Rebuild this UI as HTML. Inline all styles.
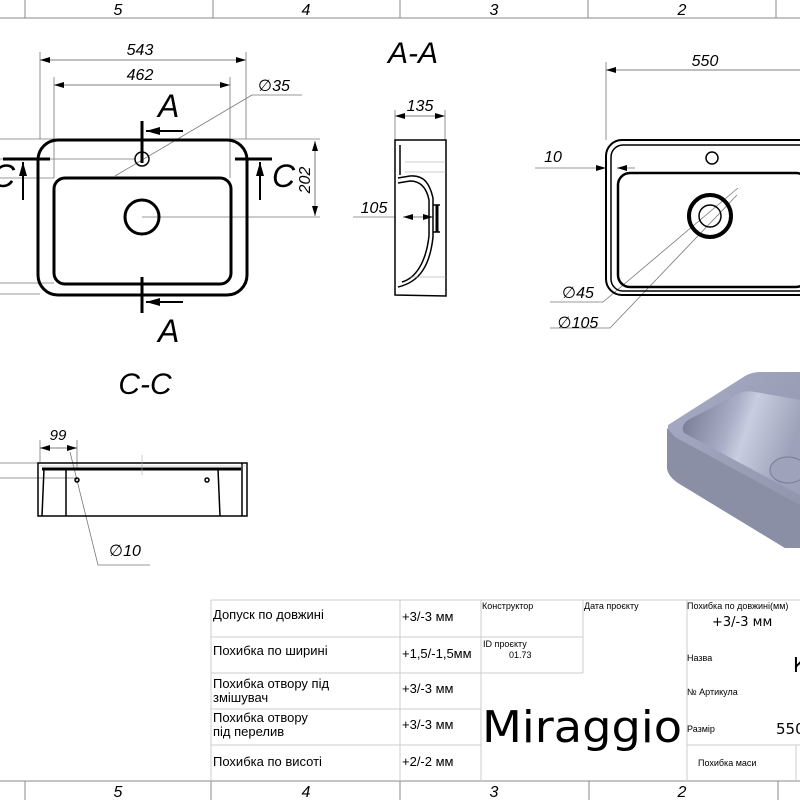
<!DOCTYPE html>
<html><head><meta charset="utf-8"><style>
html,body{margin:0;padding:0;background:#fff;}
svg{display:block;}
text{font-family:"Liberation Sans","DejaVu Sans",sans-serif;fill:#000;}
.it{font-style:italic;}
.t{font-family:"DejaVu Sans","Liberation Sans",sans-serif;}
</style></head><body>
<svg width="800" height="800" viewBox="0 0 800 800" xmlns="http://www.w3.org/2000/svg">
<defs>
<marker id="ar" viewBox="0 0 10 6" refX="10" refY="3" markerWidth="10" markerHeight="6" orient="auto-start-reverse" markerUnits="userSpaceOnUse"><path d="M0,0 L10,3 L0,6 Z" fill="#000"/></marker>
<marker id="big" viewBox="0 0 14 8" refX="14" refY="4" markerWidth="14" markerHeight="8" orient="auto" markerUnits="userSpaceOnUse"><path d="M0,0 L14,4 L0,8 Z" fill="#000"/></marker>
<linearGradient id="g1" x1="0" y1="0" x2="1" y2="1"><stop offset="0" stop-color="#a7acc4"/><stop offset="1" stop-color="#8e93ab"/></linearGradient>
<linearGradient id="g2" x1="0" y1="0" x2="1" y2="0.3"><stop offset="0" stop-color="#6f748c"/><stop offset="0.45" stop-color="#a9aec6"/><stop offset="0.6" stop-color="#c9cde0"/><stop offset="1" stop-color="#9da2ba"/></linearGradient>
</defs>

<!-- rulers -->
<g stroke="#888" stroke-width="1">
<line x1="0" y1="18" x2="800" y2="18"/>
<line x1="0" y1="781" x2="800" y2="781"/>
<line x1="25" y1="0" x2="25" y2="18"/><line x1="213" y1="0" x2="213" y2="18"/><line x1="400" y1="0" x2="400" y2="18"/><line x1="588" y1="0" x2="588" y2="18"/><line x1="776" y1="0" x2="776" y2="18"/>
<line x1="25" y1="781" x2="25" y2="800"/><line x1="211" y1="781" x2="211" y2="800"/><line x1="400" y1="781" x2="400" y2="800"/><line x1="589" y1="781" x2="589" y2="800"/><line x1="778" y1="781" x2="778" y2="800"/>
</g>
<g class="it" font-size="16" text-anchor="middle">
<text x="118" y="15">5</text><text x="306" y="15">4</text><text x="494" y="15">3</text><text x="682" y="15">2</text>
<text x="118" y="797">5</text><text x="306" y="797">4</text><text x="494" y="797">3</text><text x="682" y="797">2</text>
</g>

<!-- Left plan view -->
<g fill="none" stroke="#777" stroke-width="0.8">
<line x1="40" y1="52" x2="40" y2="139"/><line x1="246" y1="52" x2="246" y2="139"/>
<line x1="54" y1="77" x2="54" y2="178"/><line x1="230" y1="77" x2="230" y2="178"/>
<line x1="0" y1="139" x2="320" y2="139"/>
<line x1="142" y1="217" x2="320" y2="217"/>
<line x1="0" y1="159" x2="135" y2="159"/>
<line x1="0" y1="178" x2="54" y2="178"/>
<line x1="0" y1="283" x2="54" y2="283"/>
<line x1="0" y1="294" x2="40" y2="294"/>
<line x1="115" y1="176" x2="252" y2="95"/><line x1="252" y1="95" x2="302" y2="95"/>
</g>
<line x1="40" y1="60" x2="246" y2="60" stroke="#555" stroke-width="0.8" marker-start="url(#ar)" marker-end="url(#ar)"/>
<line x1="54" y1="85" x2="230" y2="85" stroke="#555" stroke-width="0.8" marker-start="url(#ar)" marker-end="url(#ar)"/>
<line x1="315" y1="141" x2="315" y2="216" stroke="#555" stroke-width="0.8" marker-start="url(#ar)" marker-end="url(#ar)"/>
<g class="it" font-size="16" text-anchor="middle">
<text x="140" y="55">543</text><text x="140" y="80">462</text>
<text x="274" y="91">∅35</text>
<text transform="translate(310,180) rotate(-90)">202</text>
</g>
<g fill="none" stroke="#000" stroke-width="3">
<rect x="38" y="140" width="209" height="155" rx="20"/>
<rect x="54" y="178" width="177" height="106" rx="11"/>
<circle cx="142" cy="217" r="17"/>
</g>
<circle cx="142" cy="159" r="7" fill="none" stroke="#000" stroke-width="1.5"/>
<g stroke="#000" stroke-width="3">
<line x1="142" y1="121" x2="142" y2="163"/>
<line x1="142" y1="277" x2="142" y2="313"/>
<line x1="3" y1="159" x2="50" y2="159"/>
<line x1="235" y1="159" x2="272" y2="159"/>
</g>
<g stroke="#000" stroke-width="2">
<line x1="183" y1="131" x2="146" y2="131" marker-end="url(#big)"/>
<line x1="183" y1="302" x2="146" y2="302" marker-end="url(#big)"/>
<line x1="23" y1="200" x2="23" y2="162" marker-end="url(#big)"/>
<line x1="260" y1="200" x2="260" y2="162" marker-end="url(#big)"/>
</g>
<g class="it" font-size="32">
<text x="158" y="117">A</text><text x="158" y="342">A</text>
<text x="-8" y="187">C</text><text x="272" y="187">C</text>
</g>

<!-- A-A -->
<text class="it" x="388" y="63" font-size="30">A-A</text>
<line x1="395" y1="116" x2="445" y2="116" stroke="#555" stroke-width="0.8" marker-start="url(#ar)" marker-end="url(#ar)"/>
<g stroke="#777" stroke-width="0.8"><line x1="395" y1="110" x2="395" y2="140"/><line x1="445" y1="110" x2="445" y2="140"/><line x1="353" y1="217" x2="395" y2="217"/></g>
<line x1="403" y1="217" x2="433" y2="217" stroke="#555" stroke-width="0.8" marker-start="url(#ar)" marker-end="url(#ar)"/>
<text class="it" x="420" y="111" font-size="16" text-anchor="middle">135</text>
<text class="it" x="374" y="213" font-size="16" text-anchor="middle">105</text>
<g fill="none" stroke="#000" stroke-width="1.5">
<path d="M395,140 L446,140 L446,296 L395,295 Z"/>
<path d="M398,178 L410,176 C425,175 430,185 433,198 L433,237 C430,265 420,282 398,287"/>
<path d="M398,183 L410,181 C422,181 427,190 429,200 L429,236 C426,262 416,278 402,282"/>
<line x1="400" y1="145" x2="400" y2="175"/>
<line x1="433" y1="205" x2="440" y2="205"/><line x1="433" y1="232" x2="440" y2="232"/>
<line x1="437" y1="205" x2="437" y2="232" stroke-width="3"/>
</g>
<g stroke="#999" stroke-width="0.6"><line x1="405" y1="162" x2="446" y2="162"/><line x1="405" y1="172" x2="446" y2="172"/><line x1="410" y1="277" x2="446" y2="277"/></g>

<!-- right view -->
<g stroke="#777" stroke-width="0.8" fill="none">
<line x1="606" y1="62" x2="606" y2="140"/>
<line x1="535" y1="168" x2="600" y2="168"/><line x1="622" y1="168" x2="635" y2="168"/>
<path d="M738,188 L603,302 L550,302"/>
<path d="M737,195 L610,328 L550,328"/>
</g>
<line x1="606" y1="70" x2="800" y2="70" stroke="#555" stroke-width="0.8" marker-start="url(#ar)"/>
<line x1="597" y1="168" x2="606" y2="168" stroke="#555" stroke-width="0.8" marker-end="url(#ar)"/>
<line x1="626" y1="168" x2="617" y2="168" stroke="#555" stroke-width="0.8" marker-end="url(#ar)"/>
<g class="it" font-size="16" text-anchor="middle">
<text x="705" y="66">550</text><text x="553" y="162">10</text>
<text x="578" y="298">∅45</text><text x="578" y="328">∅105</text>
</g>
<g fill="none" stroke="#000">
<rect x="606" y="140" width="210" height="155" rx="16" stroke-width="2"/>
<rect x="611" y="145" width="200" height="146" rx="12" stroke-width="1.5"/>
<rect x="618" y="173" width="190" height="114" rx="12" stroke-width="2.5"/>
<circle cx="712" cy="158" r="6" stroke-width="1.5"/>
<circle cx="710" cy="216" r="21" stroke-width="4"/>
<circle cx="710" cy="216" r="11" stroke-width="1.5"/>
</g>

<!-- C-C -->
<text class="it" x="145" y="394" font-size="30" text-anchor="middle">C-C</text>
<g stroke="#777" stroke-width="0.8" fill="none">
<line x1="0" y1="463" x2="40" y2="463"/><line x1="0" y1="478" x2="76" y2="478"/>
<line x1="40" y1="440" x2="40" y2="462"/><line x1="77" y1="440" x2="77" y2="470"/>
<path d="M70,452 L98,565 L150,565"/>
</g>
<line x1="40" y1="448" x2="77" y2="448" stroke="#555" stroke-width="0.8" marker-start="url(#ar)" marker-end="url(#ar)"/>
<text class="it" x="58" y="440" font-size="15" text-anchor="middle">99</text>
<text class="it" x="125" y="556" font-size="16" text-anchor="middle">∅10</text>
<g fill="none" stroke="#000" stroke-width="1.5">
<rect x="38" y="463" width="209" height="53"/>
<line x1="42" y1="469" x2="241" y2="469" stroke-width="3"/>
<line x1="242" y1="463" x2="242" y2="516"/>
<path d="M44,469 L42,516"/><path d="M66,469 L66,516"/><path d="M218,469 L220,516"/>
<circle cx="77" cy="480" r="2"/><circle cx="207" cy="480" r="2"/>
</g>
<g stroke="#aaa" stroke-width="0.6"><line x1="38" y1="466" x2="247" y2="466"/><line x1="142" y1="455" x2="142" y2="475"/></g>

<!-- 3D render -->
<path d="M668,425 L745,376 Q752,372 760,372 L800,372 L800,548 L785,548 L678,483 Q666,475 667,465 Z" fill="url(#g1)"/>
<path d="M667,428 L667,465 Q666,475 678,483 L785,548 L800,548 L800,505 L675,437 Z" fill="#8a8fa6"/>
<path d="M684,433 Q680,426 688,420 L738,394 Q745,390 755,392 L800,400 L800,495 Z" fill="url(#g2)"/>
<ellipse cx="788" cy="470" rx="18" ry="13" fill="#9ea3bb" stroke="#777c94" stroke-width="1"/>

<!-- title table -->
<g stroke="#ccc" stroke-width="1" fill="none">
<line x1="211" y1="600" x2="800" y2="600"/>
<line x1="211" y1="637" x2="481" y2="637"/>
<line x1="211" y1="673" x2="583" y2="673"/>
<line x1="211" y1="709" x2="481" y2="709"/>
<line x1="211" y1="745" x2="481" y2="745"/>
<line x1="481" y1="637" x2="583" y2="637"/>
<line x1="687" y1="745" x2="800" y2="745"/>
<line x1="211" y1="600" x2="211" y2="781"/>
<line x1="400" y1="600" x2="400" y2="781"/>
<line x1="481" y1="600" x2="481" y2="781"/>
<line x1="583" y1="600" x2="583" y2="673"/>
<line x1="687" y1="600" x2="687" y2="781"/>
<line x1="796" y1="745" x2="796" y2="781"/>
</g>
<g class="t" font-size="13">
<text x="213" y="619">Допуск по довжині</text>
<text x="213" y="655">Похибка по ширині</text>
<text x="213" y="688">Похибка отвору під</text>
<text x="213" y="702">змішувач</text>
<text x="213" y="722">Похибка отвору</text>
<text x="213" y="736">під перелив</text>
<text x="213" y="766">Похибка по висоті</text>
<text x="402" y="621">+3/-3 мм</text>
<text x="402" y="658">+1,5/-1,5мм</text>
<text x="402" y="693">+3/-3 мм</text>
<text x="402" y="729">+3/-3 мм</text>
<text x="402" y="766">+2/-2 мм</text>
</g>
<g class="t" font-size="9">
<text x="482" y="609">Конструктор</text>
<text x="584" y="609">Дата проєкту</text>
<text x="687" y="609">Похибка по довжині(мм)</text>
<text x="483" y="647">ID проєкту</text>
<text x="509" y="658">01.73</text>
<text x="687" y="661">Назва</text>
<text x="687" y="695">№ Артикула</text>
<text x="687" y="732">Размір</text>
<text x="698" y="766">Похибка маси</text>
</g>
<text class="t" x="712" y="626" font-size="13">+3/-3 мм</text>
<text class="t" x="776" y="734" font-size="15">550</text>
<text class="t" x="793" y="672" font-size="20">К</text>
<text class="t" x="482" y="742" font-size="44" textLength="200" lengthAdjust="spacingAndGlyphs">Miraggio</text>
</svg>
</body></html>
